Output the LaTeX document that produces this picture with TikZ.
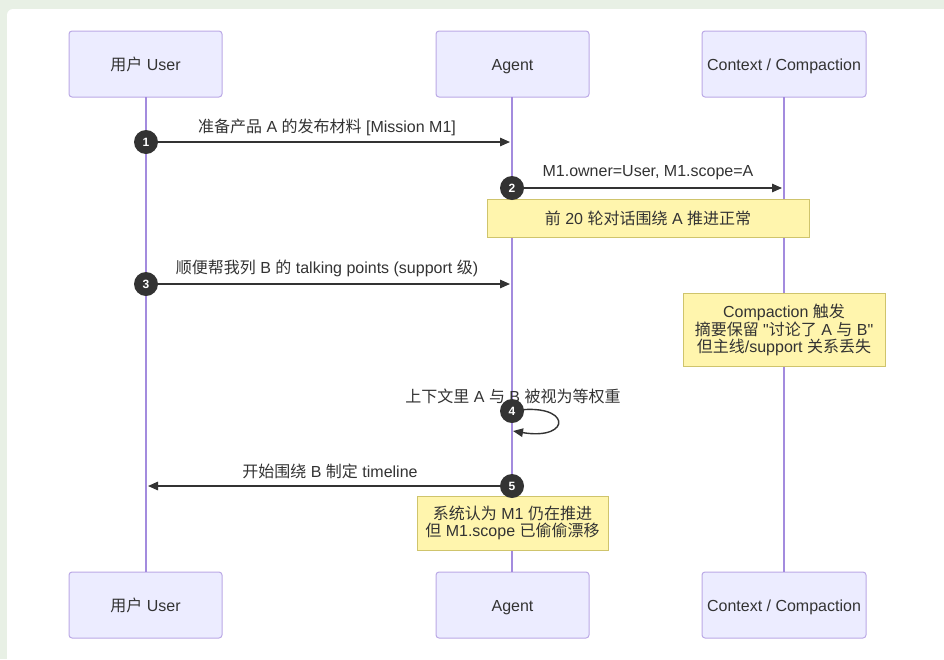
\documentclass[tikz,border=0pt]{standalone}
\usepackage{fontspec}
\setmainfont{Liberation Sans}[Ligatures=TeXOff]
\newfontfamily\zhfont{Noto Sans CJK SC}
\newcommand{\zh}[1]{{\zhfont #1}}
\usetikzlibrary{arrows.meta}

\definecolor{pagebg}{HTML}{E8F0E5}
\definecolor{actorfill}{HTML}{ECECFF}
\definecolor{actorline}{HTML}{BBA9E6}
\definecolor{lifeline}{HTML}{A38BDE}
\definecolor{notefill}{HTML}{FFF5AD}
\definecolor{noteline}{HTML}{CFC46C}
\definecolor{ink}{HTML}{333333}

\tikzset{
  actor/.style={draw=actorline, fill=actorfill, rounded corners=3pt, line width=1pt,
    minimum width=153pt, minimum height=66pt, inner sep=0pt,
    text height=12pt, text depth=0pt,
    font=\fontsize{16}{19}\selectfont, text=ink},
  life/.style={draw=lifeline, line width=1.3pt},
  note/.style={draw=noteline, fill=notefill, line width=0.9pt, align=center, inner sep=0pt,
    font=\fontsize{16}{17.5}\selectfont, text=ink},
  msg/.style={draw=ink, line width=1.4pt, -{Triangle[length=10pt,width=8.5pt]}},
  num/.style={circle, fill=ink, text=white, minimum size=24pt, inner sep=0pt,
    font=\bfseries\fontsize{12}{13}\selectfont},
  lbl/.style={text=ink, inner sep=0pt, font=\fontsize{16}{19}\selectfont}
}

\begin{document}
\begin{tikzpicture}[x=1pt,y=-1pt]
  \useasboundingbox (0,0) rectangle (944,659);
  % page and panel (only the top-left corner of the panel is rounded)
  \fill[pagebg] (0,0) rectangle (944,659);
  \fill[white] (7,659) {[rounded corners=6pt] -- (7,9)} -- (944,9) -- (944,659) -- cycle;

  % participants, top and bottom
  \node[actor] (userT) at (145.5,64) {\zh{用户} User};
  \node[actor] (agentT) at (512.5,64) {Agent};
  \node[actor, minimum width=164pt] (ctxT) at (784,64) {Context / Compaction};
  \node[actor] (userB) at (145.5,605) {\zh{用户} User};
  \node[actor] (agentB) at (512.5,605) {Agent};
  \node[actor, minimum width=164pt] (ctxB) at (784,605) {Context / Compaction};

  % lifelines
  \draw[life] (146,97) coordinate (uTop) -- (146,572) coordinate (uBot);
  \draw[life] (512,97) coordinate (aTop) -- (512,572) coordinate (aBot);
  \draw[life] (784,97) coordinate (cTop) -- (784,572) coordinate (cBot);

  % sequence number anchors
  \coordinate (p1) at (146,142);
  \coordinate (p2) at (512,188);
  \coordinate (p3) at (146,284);
  \coordinate (p4) at (512,411);
  \coordinate (p5) at (512,486);

  % message ends
  \coordinate (e1) at (510,142);
  \coordinate (e2) at (782,188);
  \coordinate (e3) at (510,284);
  \coordinate (e4) at (513,431);
  \coordinate (e5) at (148,486);

  % messages
  \draw[msg] (p1) -- (e1);
  \draw[msg] (p2) -- (e2);
  \draw[msg] (p3) -- (e3);
  \draw[msg] (p4) .. controls +(60,-10) and +(60,10) .. (e4);
  \draw[msg] (p5) -- (e5);

  % message labels
  \node[lbl] (m1) at (327,127.5) {\zh{准备产品} A \zh{的发布材料} [Mission M1]};
  \node[lbl] (m2) at (648,172.5) {M1.owner=User, M1.scope=A};
  \node[lbl] (m3) at (327,268.5) {\zh{顺便帮我列} B \zh{的} talking points (support \zh{级})};
  \node[lbl] (m4) at (513,396.5) {\zh{上下文里} A \zh{与} B \zh{被视为等权重}};
  \node[lbl] (m5) at (330,471.5) {\zh{开始围绕} B \zh{制定} timeline};

  % notes
  \node[note, minimum width=322pt, minimum height=38pt] (note1) at (648,218)
    {\zh{前} 20 \zh{轮对话围绕} A \zh{推进正常}};
  \node[note, minimum width=202pt, minimum height=73pt] (note2) at (784,330)
    {Compaction \zh{触发}\\ \zh{摘要保留} "\zh{讨论了} A \zh{与} B"\\ \zh{但主线}/support \zh{关系丢失}};
  \node[note, minimum width=191pt, minimum height=54pt] (note3) at (512.5,523)
    {\zh{系统认为} M1 \zh{仍在推进}\\ \zh{但} M1.scope \zh{已偷偷漂移}};

  % sequence numbers
  \node[num] (n1) at (p1) {1};
  \node[num] (n2) at (p2) {2};
  \node[num] (n3) at (p3) {3};
  \node[num] (n4) at (p4) {4};
  \node[num] (n5) at (p5) {5};
\end{tikzpicture}
\end{document}
